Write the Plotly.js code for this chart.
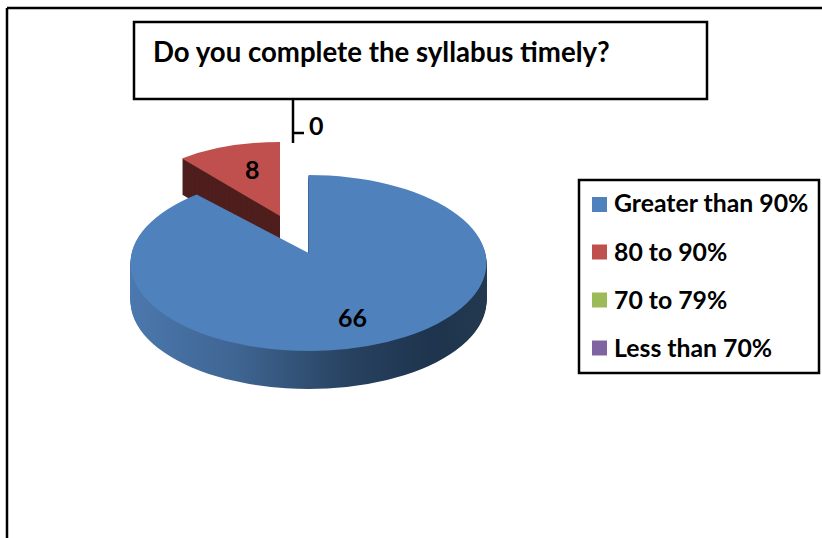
<!DOCTYPE html>
<html><head><meta charset="utf-8">
<script src="https://cdn.plot.ly/plotly-3.0.1.min.js"></script>
<style>html,body{margin:0;padding:0;background:#fff;overflow:hidden}#c{width:822px;height:538px}</style>
</head><body><div id="c"></div>
<script>
const chartTitle = "Do you complete the syllabus timely?";
const categories = ["Greater than 90%", "80 to 90%", "70 to 79%", "Less than 70%"];
const values = [66, 8, 0, 0];
const colors = ["#4f81bd", "#c0504d", "#9bbb59", "#8064a2"];
const labelPos = [[352, 317], [252, 169], [316, 125], null];
const FONT = "Lato, 'Open Sans', sans-serif";
const W = 822, H = 538;
const px = x => x / W, py = y => 1 - y / H;
const line = (x0, y0, x1, y1) => ({type: "line", xref: "paper", yref: "paper",
  x0: px(x0), y0: py(y0), x1: px(x1), y1: py(y1), line: {color: "#000", width: 2.5}});
const box = (x0, y0, x1, y1, fill, lw) => ({type: "rect", xref: "paper", yref: "paper",
  x0: px(x0), y0: py(y0), x1: px(x1), y1: py(y1), fillcolor: fill, line: {color: "#000", width: lw}});
const text = (t, x, y, size, anchor) => ({xref: "paper", yref: "paper", x: px(x), y: py(y), text: "<b>" + t + "</b>",
  showarrow: false, xanchor: anchor, yanchor: "middle", font: {family: FONT, size: size, color: "#000"}});

const shapes = [
  line(7, 8, 822, 8), line(7, 8, 7, 538),
  box(134, 22, 707, 99, "#fff", 2.5),
  line(293, 99, 293, 143), line(293, 133, 304, 133),
  box(579, 180, 819, 373, "#fff", 2.5)
];
const annotations = [text(chartTitle, 151, 51.5, 27.6, "left")];
const rowY = [203, 251, 299, 347];
const swatchY = [204.5, 252, 300, 348];
categories.forEach((c, i) => {
  shapes.push(Object.assign(box(592, swatchY[i] - 7.5, 607, swatchY[i] + 7.5, colors[i], 0), {line: {width: 0}}));
  annotations.push(text(c, 612, rowY[i], 24.8, "left"));
  if (labelPos[i]) annotations.push(text(String(values[i]), labelPos[i][0], labelPos[i][1], 25, "center"));
});

Plotly.newPlot("c", [{
  type: "pie", labels: categories, values: values, sort: false, direction: "clockwise", rotation: 0,
  textinfo: "none", hoverinfo: "skip", marker: {colors: colors, line: {width: 0}},
  domain: {x: [0, 1], y: [0, 1]}
}], {
  width: W, height: H, margin: {l: 0, r: 0, t: 0, b: 0}, showlegend: false,
  paper_bgcolor: "#fff", shapes: shapes, annotations: annotations
}, {displayModeBar: false, staticPlot: true}).then(gd => {
  // Turn the flat pie into the tilted, exploded 3-D look of the reference.
  const c0 = gd.calcdata[0][0], R = c0.r, cx = c0.cx, cy = c0.cy;
  const NS = "http://www.w3.org/2000/svg";
  const svg = gd.querySelector(".main-svg");
  const defs = document.createElementNS(NS, "defs");
  defs.innerHTML = '<linearGradient id="sideBlue" gradientUnits="objectBoundingBox" x1="0" y1="0" x2="1" y2="0">' +
    '<stop offset="0" stop-color="#4b78ae"/><stop offset="0.3" stop-color="#3f6592"/>' +
    '<stop offset="0.62" stop-color="#27415f"/><stop offset="0.85" stop-color="#1e344e"/><stop offset="1" stop-color="#22394f"/></linearGradient>';
  svg.insertBefore(defs, svg.firstChild);
  const specs = [
    {tx: 308.5, ty: 263, rx: 178, ry: 88, depth: 38, side: "url(#sideBlue)", apexUp: 10},
    {tx: 280, ty: 216, rx: 156, ry: 74, depth: 36, side: "#4f1f1e", apexUp: 0}
  ];
  const slices = Array.from(gd.querySelectorAll(".pielayer .slice"));
  const parent = slices[0].parentNode;
  const xf = (s, dy) => `translate(${s.tx},${s.ty + dy}) scale(${s.rx / R},${s.ry / R}) translate(${-cx},${-cy})`;
  [1, 0].forEach(i => {
    const g = slices[i], s = specs[i], path = g.querySelector("path");
    const up = s.apexUp * R / s.ry;
    let d = path.getAttribute("d");
    if (up) d = d.replace(/^M([-\d.e]+),([-\d.e]+)l([-\d.e]+),([-\d.e]+)/,
      (m, a, b, c, e) => `M${a},${+b - up}l${c},${+e + up}`);
    path.setAttribute("d", d);
    path.setAttribute("transform", xf(s, 0));
    for (let dy = s.depth; dy >= 1; dy -= 1) {
      const cl = path.cloneNode(true);
      cl.setAttribute("transform", xf(s, dy));
      cl.style.fill = s.side;
      cl.style.stroke = "none";
      parent.appendChild(cl);
    }
    parent.appendChild(g);
  });
});
</script></body></html>
